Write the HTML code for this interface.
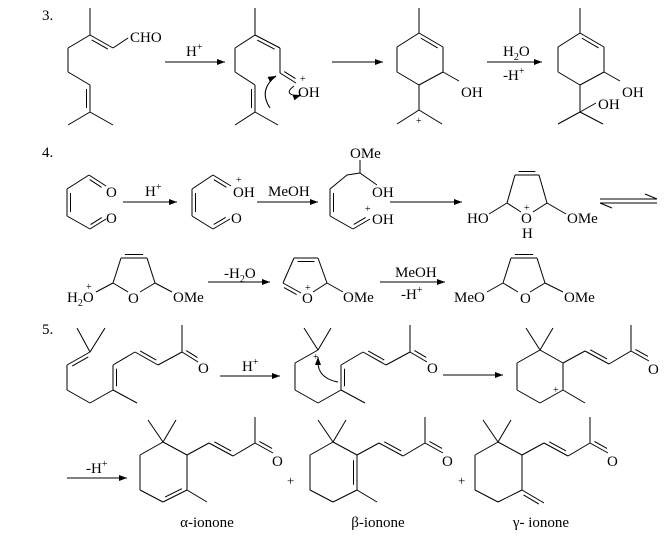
<!DOCTYPE html>
<html><head><meta charset="utf-8"><style>
html,body{margin:0;padding:0;background:#fff;}
svg{display:block;}
text{font-family:"Liberation Serif",serif;font-size:15px;fill:#000;}
.s{font-size:10px;}
</style></head><body>
<svg id="g" width="671" height="547" viewBox="0 0 671 547" xmlns="http://www.w3.org/2000/svg">
<defs><marker id="ah" markerWidth="8" markerHeight="6" refX="8" refY="3" orient="auto" markerUnits="userSpaceOnUse"><path d="M0,0 L8,3 L0,6 z" fill="#000"/></marker></defs>
<g id="ln" stroke="#000" stroke-width="1" fill="none"></g>
<!-- section 3 -->
<text x="42" y="20">3.</text>
<text x="130" y="42">CHO</text>
<text x="186" y="56">H<tspan class="s" dy="-6">+</tspan></text>
<text x="298" y="97">OH</text><text x="300" y="82" class="s">+</text>
<text x="461" y="97">OH</text><text x="416" y="124" class="s">+</text>
<text x="503" y="56">H<tspan class="s" dy="4">2</tspan><tspan dy="-4">O</tspan></text>
<text x="503" y="80">-H<tspan class="s" dy="-6">+</tspan></text>
<text x="622" y="97">OH</text>
<text x="598" y="109">OH</text>
<!-- section 4 -->
<text x="42" y="157">4.</text>
<text x="106" y="197">O</text><text x="106" y="223">O</text>
<text x="145" y="196">H<tspan class="s" dy="-6">+</tspan></text>
<text x="233" y="197">OH</text><text x="236" y="183" class="s">+</text>
<text x="231" y="223">O</text>
<text x="268" y="196">MeOH</text>
<text x="350" y="158">OMe</text>
<text x="372" y="197">OH</text>
<text x="372" y="224">OH</text><text x="365" y="212" class="s">+</text>
<text x="467" y="223">HO</text>
<text x="521" y="223">O</text><text x="524" y="211" class="s">+</text>
<text x="522" y="238">H</text>
<text x="567" y="223">OMe</text>
<text x="67" y="302">H<tspan class="s" dy="4">2</tspan><tspan dy="-4">O</tspan></text><text x="86" y="290" class="s">+</text>
<text x="128" y="303">O</text>
<text x="173" y="302">OMe</text>
<text x="224" y="278">-H<tspan class="s" dy="4">2</tspan><tspan dy="-4">O</tspan></text>
<text x="302" y="303">O</text><text x="305" y="291" class="s">+</text>
<text x="343" y="302">OMe</text>
<text x="395" y="277">MeOH</text>
<text x="401" y="299">-H<tspan class="s" dy="-6">+</tspan></text>
<text x="454" y="302">MeO</text>
<text x="520" y="303">O</text>
<text x="564" y="302">OMe</text>
<!-- section 5 -->
<text x="42" y="334">5.</text>
<text x="198" y="373">O</text>
<text x="242" y="371">H<tspan class="s" dy="-6">+</tspan></text>
<text x="313" y="360" class="s">+</text>
<text x="427" y="373">O</text>
<text x="648" y="374">O</text>
<text x="553" y="393" class="s">+</text>
<text x="86" y="473">-H<tspan class="s" dy="-6">+</tspan></text>
<text x="272" y="466">O</text><text x="442" y="466">O</text><text x="607" y="466">O</text>
<text x="287" y="485" class="s" style="font-size:13px">+</text>
<text x="458" y="485" class="s" style="font-size:13px">+</text>
<text x="207" y="527" text-anchor="middle">α-ionone</text>
<text x="378" y="527" text-anchor="middle">β-ionone</text>
<text x="541" y="527" text-anchor="middle">γ- ionone</text>
</svg>
<script>
var g=document.getElementById('ln'),NS='http://www.w3.org/2000/svg';
function L(a,b,c,d,m){var e=document.createElementNS(NS,'line');e.setAttribute('x1',a);e.setAttribute('y1',b);e.setAttribute('x2',c);e.setAttribute('y2',d);if(m)e.setAttribute('marker-end','url(#ah)');g.appendChild(e);}
function P(pts){for(var i=0;i<pts.length-2;i+=2)L(pts[i],pts[i+1],pts[i+2],pts[i+3]);}
function D(a,b,c,d,s){L(a,b,c,d);var dx=c-a,dy=d-b,l=Math.sqrt(dx*dx+dy*dy),nx=-dy/l*3.5*s,ny=dx/l*3.5*s,k=0.15;
L(a+dx*k+nx,b+dy*k+ny,c-dx*k+nx,d-dy*k+ny);}
function A(a,b,c){L(a,b,c,b,1);}
function C(d){var e=document.createElementNS(NS,'path');e.setAttribute('d',d);g.appendChild(e);}
// section 3
L(90,8,90,35);D(90,35,113,48,1);L(113,48,128,38);P([90,35,68,48,68,72,90,85]);D(90,85,90,112,1);L(90,112,68,125);L(90,112,113,125);
A(165,62,225);
L(255,8,255,35);D(255,35,280,48,1);L(280,48,280,73);D(280,73,296,83,-1);P([255,35,235,48,235,72,255,85]);D(255,85,255,112,1);L(255,112,235,125);L(255,112,278,125);
C('M270,108 Q258,90 276,76');L(272,78,276,76,1);
C('M294,86 Q282,95 300,96');L(298,96,301,95,1);
A(332,62,383);
function ring6(x){L(x,33,x,8);D(x,33,x+24,47,1);P([x+24,47,x+24,72,x,85,x-22,72,x-22,47,x,33]);}
ring6(419);L(443,72,459,81);L(419,85,419,110);L(419,110,397,124);L(419,110,442,124);
A(487,62,542);
ring6(580);L(604,72,620,81);L(580,85,580,112);L(580,112,558,124);L(580,112,603,124);L(580,112,596,103);
// section 4
L(89,175,67,189);D(67,189,67,216,-1);L(67,216,90,229);D(89,175,106,186,1);D(90,229,106,219,-1);
A(123,202,177);
L(213,175,192,189);D(192,189,192,216,-1);L(192,216,213,229);D(213,175,231,186,1);D(213,229,230,219,-1);
A(257,202,318);
L(360,173,360,160);L(360,173,347,175);L(347,175,330,189);D(330,189,330,216,-1);L(330,216,353,229);D(353,229,370,219,-1);L(360,173,377,185);
A(390,202,462);
function fur(l,r,ty,cy,oy){var m=(l+r)/2;D(l+8,ty,r-8,ty,-1);L(l,cy,l+8,ty);L(r,cy,r-8,ty);L(l,cy,m-6,oy);L(r,cy,m+6,oy);}
fur(507,547,175,203,212);L(507,203,489,214);L(547,203,566,214);
L(600,199,657,199);L(657,199,645,194);L(600,203,657,203);L(600,203,612,208);
fur(113,155,258,283,292);L(113,283,96,292);L(155,283,172,292);
A(208,282,270);
D(294,258,318,258,1);L(283,283,294,258);L(327,283,318,258);D(283,283,301,293,1);L(327,283,313,292);L(327,283,343,292);
A(380,282,445);
fur(503,545,258,283,292);L(503,283,487,292);L(545,283,563,292);
// section 5
function ch(x0,y0){
L(x0,y0,x0+22,y0-12);D(x0+22,y0-12,x0+46,y0+1,-1);L(x0+46,y0+1,x0+68,y0-12);L(x0+68,y0-12,x0+68,y0-38);D(x0+68,y0-12,x0+86,y0-2,-1);}
L(77,328,90,352);L(105,328,90,352);D(90,352,67,365,-1);P([67,365,67,390,90,403,113,390,137,403]);D(113,390,113,365,1);L(113,365,135,352);D(135,352,158,365,-1);L(158,365,182,352);L(182,352,182,325);D(182,352,198,362,-1);
A(220,376,280);
L(304,328,318,350);L(331,328,318,350);L(318,350,295,363);P([295,363,295,390,318,403,341,390,365,403]);D(341,390,341,365,1);L(341,365,363,352);D(363,352,386,365,-1);L(386,365,410,352);L(410,352,410,325);D(410,352,427,362,-1);
C('M338,382 Q316,378 318,358');L(318,360,318,357,1);
A(443,375,503);
L(526,328,540,350);L(553,328,540,350);P([540,350,517,363,517,390,540,403,563,390,563,363,540,350]);L(563,390,585,403);ch(563,363);
A(67,478,127);
function ion(x,t){L(x-15,420,x,442);L(x+13,420,x,442);L(x,442,x-23,455);L(x-23,455,x-23,490);L(x-23,490,x,502);
if(t==0){D(x,502,x+24,490,-1);}else L(x,502,x+24,490);
if(t==1){D(x+24,490,x+24,455,-1);}else L(x+24,490,x+24,455);
L(x+24,455,x,442);
if(t==2){D(x+24,490,x+46,503,1);}else L(x+24,490,x+44,502);
ch(x+24,455);}
ion(163,0);ion(333,1);ion(498,2);
</script>
</body></html>
